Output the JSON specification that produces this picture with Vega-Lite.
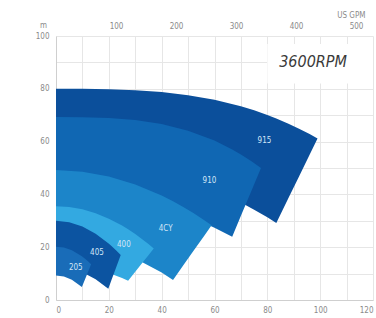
{
  "$schema": "https://vega.github.io/schema/vega-lite/v6.json",
  "width": 317,
  "height": 264,
  "autosize": "none",
  "padding": {"left": 56, "top": 36, "right": 3, "bottom": 18},
  "background": "white",
  "config": {
    "view": {"stroke": null},
    "axis": {
      "labelFont": "Liberation Sans Narrow, DejaVu Sans Condensed, Roboto",
      "labelFontSize": 8,
      "labelColor": "#8a8a8a",
      "titleFont": "Liberation Sans Narrow, DejaVu Sans Condensed, Roboto",
      "titleFontSize": 8,
      "titleColor": "#8a8a8a",
      "titleFontWeight": "normal",
      "gridColor": "#e6e6e6",
      "gridWidth": 1,
      "domainColor": "#cfcfcf",
      "ticks": false
    }
  },
  "datasets": {
    "bands": [
      {"band": "915", "q": 0, "hi": 80.0, "lo": 55.3},
      {"band": "915", "q": 10, "hi": 80.0, "lo": 54.9},
      {"band": "915", "q": 20, "hi": 79.85, "lo": 53.8},
      {"band": "915", "q": 30, "hi": 79.48, "lo": 51.9},
      {"band": "915", "q": 40, "hi": 78.76, "lo": 49.3},
      {"band": "915", "q": 50, "hi": 77.58, "lo": 45.9},
      {"band": "915", "q": 60, "hi": 75.82, "lo": 41.8},
      {"band": "915", "q": 70, "hi": 73.35, "lo": 36.9},
      {"band": "915", "q": 75, "hi": 71.83, "lo": 34.2},
      {"band": "915", "q": 80, "hi": 70.08, "lo": 31.3},
      {"band": "915", "q": 83.4, "hi": 68.76, "lo": 29.2},
      {"band": "915", "q": 88, "hi": 66.8, "lo": 38.6},
      {"band": "915", "q": 92, "hi": 64.91, "lo": 46.8},
      {"band": "915", "q": 96, "hi": 62.86, "lo": 55.0},
      {"band": "915", "q": 99, "hi": 61.2, "lo": 61.2},
      {"band": "910", "q": 0, "hi": 69.3, "lo": 42.2},
      {"band": "910", "q": 10, "hi": 69.26, "lo": 41.8},
      {"band": "910", "q": 20, "hi": 68.97, "lo": 40.6},
      {"band": "910", "q": 30, "hi": 68.18, "lo": 38.5},
      {"band": "910", "q": 40, "hi": 66.66, "lo": 35.6},
      {"band": "910", "q": 50, "hi": 64.14, "lo": 31.95},
      {"band": "910", "q": 60, "hi": 60.38, "lo": 27.4},
      {"band": "910", "q": 66.7, "hi": 57.04, "lo": 24.0},
      {"band": "910", "q": 70, "hi": 55.13, "lo": 31.9},
      {"band": "910", "q": 74, "hi": 52.56, "lo": 41.4},
      {"band": "910", "q": 77.6, "hi": 50.0, "lo": 50.0},
      {"band": "4CY", "q": 0, "hi": 49.2, "lo": 22.6},
      {"band": "4CY", "q": 10, "hi": 48.6, "lo": 21.84},
      {"band": "4CY", "q": 20, "hi": 46.79, "lo": 19.54},
      {"band": "4CY", "q": 30, "hi": 43.78, "lo": 15.72},
      {"band": "4CY", "q": 40, "hi": 39.56, "lo": 10.38},
      {"band": "4CY", "q": 44.3, "hi": 37.38, "lo": 7.6},
      {"band": "4CY", "q": 48, "hi": 35.32, "lo": 12.85},
      {"band": "4CY", "q": 52, "hi": 32.91, "lo": 18.52},
      {"band": "4CY", "q": 56, "hi": 30.31, "lo": 24.19},
      {"band": "4CY", "q": 58.9, "hi": 28.3, "lo": 28.3},
      {"band": "400", "q": 0, "hi": 35.5, "lo": 13.6},
      {"band": "400", "q": 5, "hi": 35.21, "lo": 13.39},
      {"band": "400", "q": 10, "hi": 34.33, "lo": 12.76},
      {"band": "400", "q": 15, "hi": 32.87, "lo": 11.71},
      {"band": "400", "q": 20, "hi": 30.82, "lo": 10.24},
      {"band": "400", "q": 25, "hi": 28.2, "lo": 8.35},
      {"band": "400", "q": 27.3, "hi": 26.79, "lo": 7.3},
      {"band": "400", "q": 30, "hi": 24.98, "lo": 10.7},
      {"band": "400", "q": 33, "hi": 22.77, "lo": 14.47},
      {"band": "400", "q": 35, "hi": 21.18, "lo": 16.99},
      {"band": "400", "q": 37, "hi": 19.5, "lo": 19.5},
      {"band": "405", "q": 0, "hi": 30.0, "lo": 12.6},
      {"band": "405", "q": 5, "hi": 29.46, "lo": 12.07},
      {"band": "405", "q": 10, "hi": 27.83, "lo": 10.48},
      {"band": "405", "q": 15, "hi": 25.13, "lo": 7.83},
      {"band": "405", "q": 19.8, "hi": 21.51, "lo": 4.3},
      {"band": "405", "q": 21, "hi": 20.45, "lo": 7.54},
      {"band": "405", "q": 23, "hi": 18.54, "lo": 12.95},
      {"band": "405", "q": 24.5, "hi": 17.0, "lo": 17.0},
      {"band": "205", "q": 0, "hi": 20.2, "lo": 9.3},
      {"band": "205", "q": 3, "hi": 19.86, "lo": 8.89},
      {"band": "205", "q": 6, "hi": 18.84, "lo": 7.65},
      {"band": "205", "q": 9.8, "hi": 16.56, "lo": 4.9},
      {"band": "205", "q": 11, "hi": 15.62, "lo": 7.85},
      {"band": "205", "q": 12, "hi": 14.75, "lo": 10.31},
      {"band": "205", "q": 13.3, "hi": 13.5, "lo": 13.5}
    ],
    "labels": [
      {"text": "915", "q": 78.9, "h": 60.2},
      {"text": "910", "q": 58.1, "h": 45.1},
      {"text": "4CY", "q": 41.5, "h": 26.9},
      {"text": "400", "q": 25.7, "h": 20.8},
      {"text": "405", "q": 15.5, "h": 17.8},
      {"text": "205", "q": 7.5, "h": 12.1}
    ],
    "rpm": [
      {"text": "3600RPM", "q": 97.3, "h": 90.2, "q0": 80, "q1": 120, "h0": 82, "h1": 97}
    ]
  },
  "layer": [
    {
      "data": {"name": "bands"},
      "encoding": {
        "x": {
          "field": "q", "type": "quantitative",
          "scale": {"domain": [0, 120], "nice": false, "zero": false},
          "axis": {
            "orient": "bottom", "title": null,
            "values": [0, 10, 20, 30, 40, 50, 60, 70, 80, 90, 100, 110, 120],
            "labelExpr": "datum.value % 20 === 0 ? datum.label : ''",
            "labelPadding": 6, "grid": true, "domain": true
          }
        },
        "y": {
          "field": "hi", "type": "quantitative",
          "scale": {"domain": [0, 100], "nice": false, "zero": false},
          "axis": {
            "orient": "left",
            "values": [0, 10, 20, 30, 40, 50, 60, 70, 80, 90, 100],
            "labelExpr": "datum.value % 20 === 0 ? datum.label : ''",
            "labelPadding": 7, "grid": true, "domain": true,
            "title": "m", "titleAngle": 0, "titleX": -13, "titleY": -9,
            "titleAlign": "center", "titleBaseline": "alphabetic"
          }
        },
        "y2": {"field": "lo"},
        "color": {
          "field": "band", "type": "nominal",
          "scale": {
            "domain": ["915", "910", "4CY", "400", "405", "205"],
            "range": ["#0b4f9b", "#1067b3", "#1c85c9", "#33a9e1", "#0c54a1", "#196cb8"]
          },
          "legend": null
        }
      },
      "layer": [
        {"transform": [{"filter": "datum.band === '915'"}], "mark": {"type": "area", "opacity": 1}},
        {"transform": [{"filter": "datum.band === '910'"}], "mark": {"type": "area", "opacity": 1}},
        {"transform": [{"filter": "datum.band === '4CY'"}], "mark": {"type": "area", "opacity": 1}},
        {"transform": [{"filter": "datum.band === '400'"}], "mark": {"type": "area", "opacity": 1}},
        {"transform": [{"filter": "datum.band === '405'"}], "mark": {"type": "area", "opacity": 1}},
        {"transform": [{"filter": "datum.band === '205'"}], "mark": {"type": "area", "opacity": 1}}
      ]
    },
    {
      "data": {"name": "labels"},
      "mark": {"type": "text", "font": "Liberation Sans Narrow, DejaVu Sans Condensed, Roboto", "fontSize": 8, "color": "#d3e6f7"},
      "encoding": {
        "x": {"field": "q", "type": "quantitative", "axis": null},
        "y": {"field": "h", "type": "quantitative", "axis": null},
        "text": {"field": "text"}
      }
    },
    {
      "data": {"name": "rpm"},
      "mark": {"type": "rect", "fill": "white"},
      "encoding": {
        "x": {"field": "q0", "type": "quantitative", "axis": null},
        "x2": {"field": "q1"},
        "y": {"field": "h0", "type": "quantitative", "axis": null},
        "y2": {"field": "h1"}
      }
    },
    {
      "data": {"name": "rpm"},
      "mark": {"type": "text", "font": "Liberation Sans Narrow, DejaVu Sans Condensed, Roboto", "fontSize": 16, "fontStyle": "italic", "color": "#3a3a3a"},
      "encoding": {
        "x": {
          "field": "q", "type": "quantitative",
          "axis": {
            "orient": "top", "grid": false, "domain": false,
            "values": [22.712, 45.424, 68.135, 90.847, 113.559],
            "labelExpr": "format(datum.value * 4.403, '.0f')",
            "labelPadding": 6,
            "title": "US GPM", "titleAlign": "right", "titleX": 309, "titleY": -19,
            "titleBaseline": "alphabetic"
          }
        },
        "y": {"field": "h", "type": "quantitative", "axis": null},
        "text": {"field": "text"}
      }
    }
  ],
  "resolve": {"axis": {"x": "independent", "y": "independent"}}
}
